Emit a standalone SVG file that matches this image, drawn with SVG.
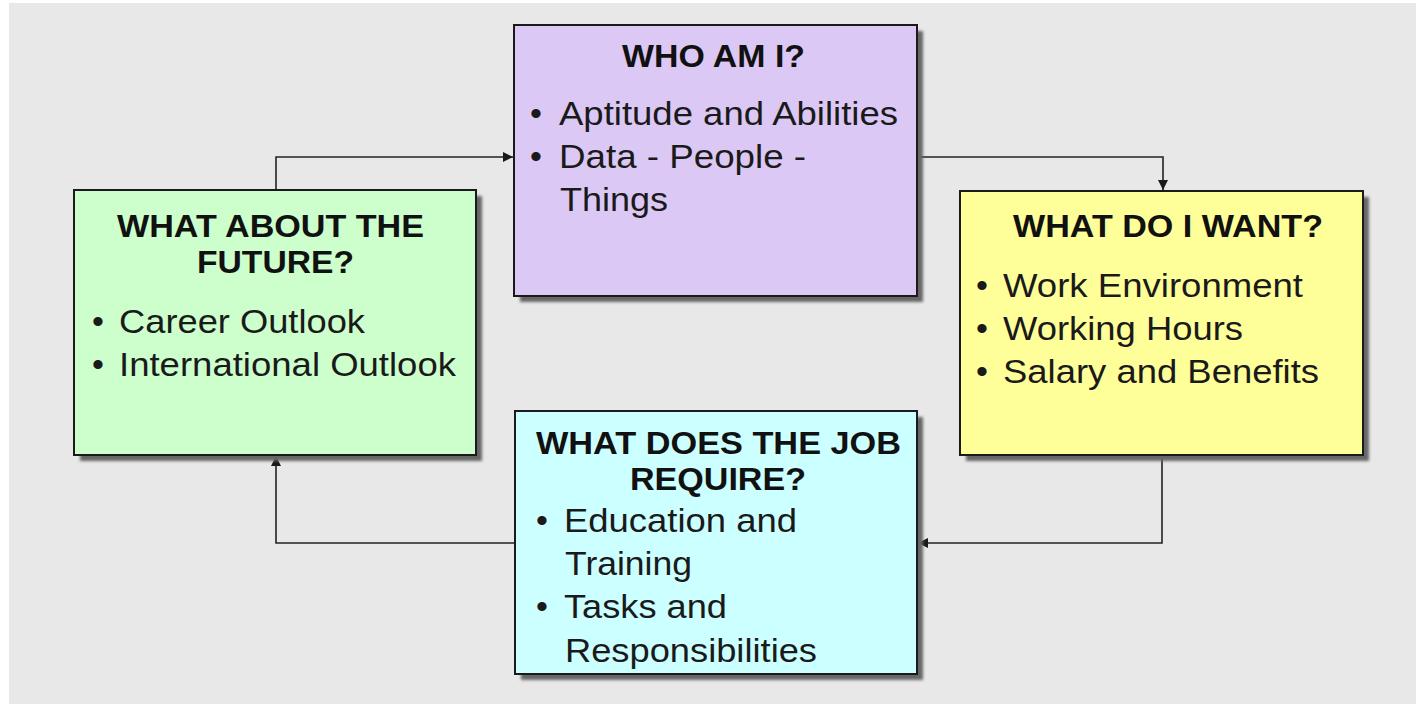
<svg xmlns="http://www.w3.org/2000/svg" width="1416" height="704" viewBox="0 0 1416 704">
<defs>
<marker id="arr" viewBox="0 0 10 10" refX="10" refY="5" markerWidth="11" markerHeight="10" markerUnits="userSpaceOnUse" orient="auto">
<path d="M0,0 L10,5 L0,10 z" fill="#1a1a1a"/>
</marker>
<filter id="sh" x="-5%" y="-5%" width="115%" height="115%">
<feGaussianBlur stdDeviation="1.5"/>
</filter>
</defs>
<style>
.box{stroke:#1a1a1a;stroke-width:2}
.shadow{fill:#666666;filter:url(#sh)}
.t{font-family:"Liberation Sans",Arial,sans-serif;font-weight:bold;font-size:31px;fill:#111}
.b{font-family:"Liberation Sans",Arial,sans-serif;font-size:34px;fill:#1a1a1a}
.con{fill:none;stroke:#222;stroke-width:1.6}
</style>
<rect x="0" y="0" width="1416" height="704" fill="#ffffff"/>
<rect x="9" y="3" width="1407" height="701" fill="#e8e8e8"/>

<g id="connectors">
<path class="con" d="M276,190 V157 H513" marker-end="url(#arr)"/>
<path class="con" d="M917,157 H1163 V190" marker-end="url(#arr)"/>
<path class="con" d="M1162,455 V543 H918" marker-end="url(#arr)"/>
<path class="con" d="M515,543 H276 V456" marker-end="url(#arr)"/>
</g>

<g id="who">
<rect class="shadow" x="520" y="31" width="403" height="271"/>
<rect class="box" x="514" y="25" width="403" height="271" fill="#dcc8f5"/>
<text class="t" x="622" y="67" textLength="183" lengthAdjust="spacingAndGlyphs">WHO AM I?</text>
<text class="b" x="530" y="125">•</text>
<text class="b" x="559" y="125" textLength="339" lengthAdjust="spacingAndGlyphs">Aptitude and Abilities</text>
<text class="b" x="530" y="168">•</text>
<text class="b" x="559" y="168" textLength="247" lengthAdjust="spacingAndGlyphs">Data - People -</text>
<text class="b" x="560" y="211" textLength="108" lengthAdjust="spacingAndGlyphs">Things</text>
</g>

<g id="want">
<rect class="shadow" x="966" y="197" width="403" height="264"/>
<rect class="box" x="960" y="191" width="403" height="264" fill="#ffff99"/>
<text class="t" x="1013" y="237" textLength="310" lengthAdjust="spacingAndGlyphs">WHAT DO I WANT?</text>
<text class="b" x="976" y="297">•</text>
<text class="b" x="1003" y="297" textLength="300" lengthAdjust="spacingAndGlyphs">Work Environment</text>
<text class="b" x="976" y="340">•</text>
<text class="b" x="1003" y="340" textLength="240" lengthAdjust="spacingAndGlyphs">Working Hours</text>
<text class="b" x="976" y="383">•</text>
<text class="b" x="1003" y="383" textLength="316" lengthAdjust="spacingAndGlyphs">Salary and Benefits</text>
</g>

<g id="future">
<rect class="shadow" x="80" y="196" width="402" height="265"/>
<rect class="box" x="74" y="190" width="402" height="265" fill="#ccffcc"/>
<text class="t" x="117" y="237" textLength="307" lengthAdjust="spacingAndGlyphs">WHAT ABOUT THE</text>
<text class="t" x="197" y="273" textLength="157" lengthAdjust="spacingAndGlyphs">FUTURE?</text>
<text class="b" x="92" y="333">•</text>
<text class="b" x="119" y="333" textLength="246" lengthAdjust="spacingAndGlyphs">Career Outlook</text>
<text class="b" x="92" y="376">•</text>
<text class="b" x="119" y="376" textLength="337" lengthAdjust="spacingAndGlyphs">International Outlook</text>
</g>

<g id="job">
<rect class="shadow" x="521" y="417" width="402" height="263"/>
<rect class="box" x="515" y="411" width="402" height="263" fill="#ccffff"/>
<text class="t" x="536" y="454" textLength="365" lengthAdjust="spacingAndGlyphs">WHAT DOES THE JOB</text>
<text class="t" x="630" y="490" textLength="176" lengthAdjust="spacingAndGlyphs">REQUIRE?</text>
<text class="b" x="536" y="532">•</text>
<text class="b" x="564" y="532" textLength="233" lengthAdjust="spacingAndGlyphs">Education and</text>
<text class="b" x="565" y="575" textLength="127" lengthAdjust="spacingAndGlyphs">Training</text>
<text class="b" x="536" y="618">•</text>
<text class="b" x="564" y="618" textLength="163" lengthAdjust="spacingAndGlyphs">Tasks and</text>
<text class="b" x="565" y="662" textLength="252" lengthAdjust="spacingAndGlyphs">Responsibilities</text>
</g>
</svg>
